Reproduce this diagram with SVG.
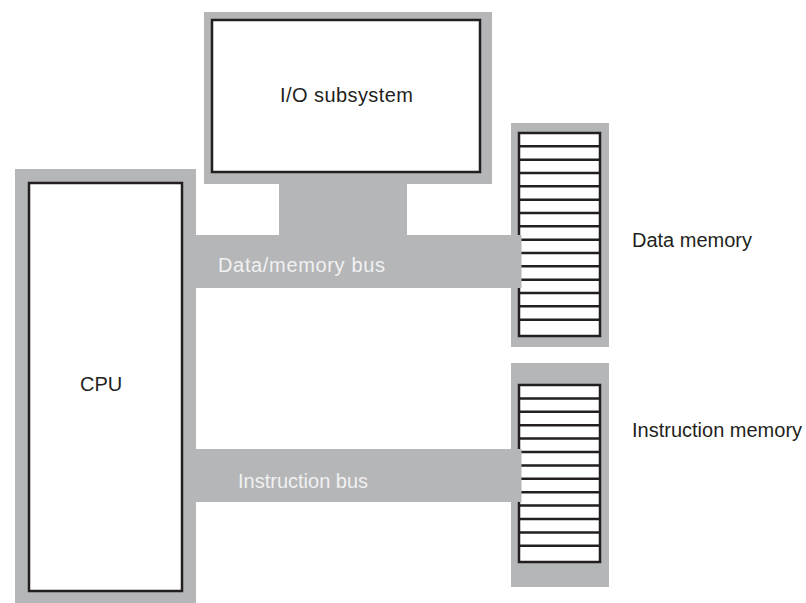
<svg xmlns="http://www.w3.org/2000/svg" width="806" height="603" viewBox="0 0 806 603">
  <style>
    .shade { fill: #b5b6b8; }
    .box { fill: #ffffff; stroke: #231f20; stroke-width: 2.5; }
    .row { fill: none; stroke: #231f20; stroke-width: 2.5; }
    .label { font-family: "Liberation Sans", Arial, sans-serif; font-size: 20px; fill: #231f20; }
    .buslabel { font-family: "Liberation Sans", Arial, sans-serif; font-size: 20px; fill: #f1f1f2; }
  </style>
  <rect width="806" height="603" fill="#ffffff"/>

  <g id="cpu">
    <rect class="shade" x="15" y="169" width="181" height="434"/>
    <rect class="box" x="29" y="183" width="153" height="408"/>
    <text class="label" x="80" y="391">CPU</text>
  </g>

  <g id="io-subsystem">
    <rect class="shade" x="204" y="12" width="288" height="172"/>
    <rect class="box" x="212" y="20" width="268" height="152"/>
    <text class="label" x="280" y="102" textLength="133" lengthAdjust="spacing">I/O subsystem</text>
  </g>

  <g id="data-memory">
    <rect class="shade" x="511" y="123" width="98" height="224"/>
    <rect class="box" x="519" y="133" width="81" height="203"/>
    <path class="row" d="M519 146.3H600M519 159.7H600M519 173H600M519 186.3H600M519 199.7H600M519 213H600M519 226.3H600M519 239.7H600M519 253H600M519 266.3H600M519 279.7H600M519 293H600M519 306.3H600M519 319.7H600"/>
    <text class="label" x="632" y="247">Data memory</text>
  </g>

  <g id="instruction-memory">
    <rect class="shade" x="511" y="363" width="98" height="224"/>
    <rect class="box" x="519" y="385" width="81" height="177"/>
    <path class="row" d="M519 398.4H600M519 411.8H600M519 425.2H600M519 438.6H600M519 452H600M519 465.4H600M519 478.8H600M519 492.2H600M519 505.6H600M519 519H600M519 532.4H600M519 545.8H600"/>
    <text class="label" x="632" y="437">Instruction memory</text>
  </g>

  <g id="connectors">
    <g id="data-bus">
      <rect class="shade" x="279" y="183" width="128" height="53"/>
      <rect class="shade" x="196" y="235" width="325.5" height="53"/>
      <text class="buslabel" x="218" y="272" textLength="167" lengthAdjust="spacing">Data/memory bus</text>
    </g>
    <g id="instruction-bus">
      <rect class="shade" x="196" y="449" width="325.5" height="53"/>
      <text class="buslabel" x="238" y="488">Instruction bus</text>
    </g>
  </g>
</svg>
